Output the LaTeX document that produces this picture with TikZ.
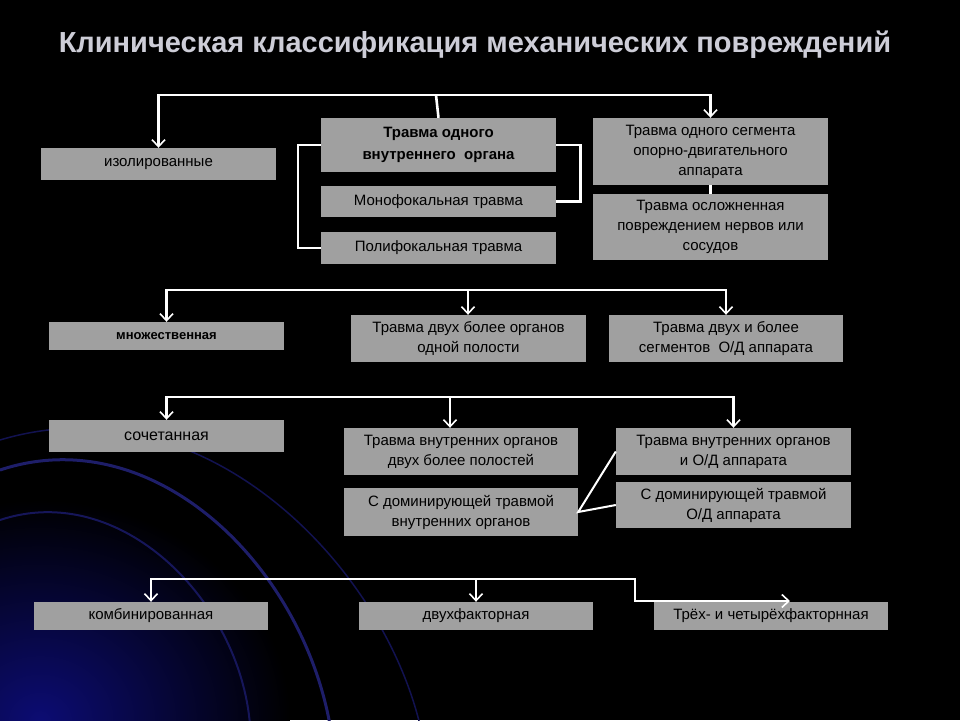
\documentclass[tikz,border=0pt]{standalone}
\usepackage{fontspec}
\setmainfont{Liberation Sans}
\usetikzlibrary{arrows.meta}
\definecolor{boxgray}{RGB}{160,160,160}
\definecolor{titlegray}{RGB}{205,205,215}
\definecolor{glowblue}{RGB}{12,12,115}
\definecolor{arcA}{RGB}{30,30,105}
\definecolor{arcB}{RGB}{22,22,90}
\definecolor{arcC}{RGB}{18,18,80}
\begin{document}
\begin{tikzpicture}[x=1pt,y=-1pt,
  box/.style={fill=boxgray,draw=none,inner sep=1pt,align=center,font=\fontsize{15}{20}\selectfont,text=black},
  wire/.style={draw=white,line width=2.6pt},
  arr/.style={wire,-{Straight Barb[length=7pt,width=13pt,line width=1.6pt]}}]
\useasboundingbox (0,0) rectangle (960,720);
\fill[black] (0,0) rectangle (960,720);
\begin{scope}
\clip (0,0) rectangle (960,720);
\shade[inner color=glowblue,outer color=black] (40,720) ellipse (250 and 220);
\draw[arcA,line width=3pt] (0,470) .. controls (150,420) and (300,560) .. (330,725);
\draw[arcB,line width=2pt] (0,520) .. controls (120,480) and (240,600) .. (250,725);
\draw[arcC,line width=1.5pt] (0,440) .. controls (200,380) and (380,560) .. (420,725);
\end{scope}
\node[font=\bfseries\fontsize{29}{33}\selectfont,text=titlegray] (title) at (475,45) {Клиническая классификация механических повреждений};
% row 1
\node[box,minimum width=235pt,minimum height=32pt] (iso) at (158.5,164) {изолированные};
\node[box,minimum width=235pt,minimum height=54pt,font=\bfseries\fontsize{15}{22}\selectfont] (one) at (438.5,145) {Травма одного\\внутреннего\ \ органа};
\node[box,minimum width=235pt,minimum height=31pt] (mono) at (438.5,201.5) {Монофокальная травма};
\node[box,minimum width=235pt,minimum height=32pt] (poly) at (438.5,248) {Полифокальная травма};
\node[box,minimum width=235pt,minimum height=67pt] (seg) at (710.5,151.5) {Травма одного сегмента\\опорно-двигательного\\аппарата};
\node[box,minimum width=235pt,minimum height=66pt] (compl) at (710.5,227) {Травма осложненная\\повреждением нервов или\\сосудов};
\coordinate (t1) at (436,95);
\draw[wire] (one.north) -- (t1);
\draw[arr] (t1) -| (iso.north);
\draw[arr] (t1) -| (seg.north);
\draw[wire] (seg.south) -- (compl.north);
\draw[wire] (one.west) -- ++(-23,0) |- (poly.west);
\draw[wire] (one.east) -- ++(24,0) |- (mono.east);
% row 2
\node[box,minimum width=235pt,minimum height=28pt,font=\bfseries\fontsize{13}{16}\selectfont] (mult) at (166.5,336) {множественная};
\node[box,minimum width=235pt,minimum height=47pt] (cav) at (468.5,338.5) {Травма двух более органов\\одной полости};
\node[box,minimum width=234pt,minimum height=47pt] (segs) at (726,338.5) {Травма двух и более\\сегментов\ \ О/Д аппарата};
\coordinate (t2) at (468,290);
\draw[arr] (t2) -| (mult.north);
\draw[arr] (t2) -- (t2 |- cav.north);
\draw[arr] (t2) -| (segs.north);
% row 3
\node[box,minimum width=235pt,minimum height=32pt,font=\fontsize{16}{19}\selectfont] (soch) at (166.5,436) {сочетанная};
\node[box,minimum width=234pt,minimum height=47pt] (int2) at (461,451.5) {Травма внутренних органов\\двух более полостей};
\node[box,minimum width=234pt,minimum height=48pt] (domint) at (461,512) {С доминирующей травмой\\внутренних органов};
\node[box,minimum width=235pt,minimum height=47pt] (intod) at (733.5,451.5) {Травма внутренних органов\\и О/Д аппарата};
\node[box,minimum width=235pt,minimum height=46pt] (domod) at (733.5,505) {С доминирующей травмой\\О/Д аппарата};
\coordinate (t3) at (450,397);
\draw[arr] (t3) -| (soch.north);
\draw[arr] (t3) -- (t3 |- int2.north);
\draw[arr] (t3) -| (intod.north);
\draw[white,line width=2pt] (intod.west) -- (domint.east) -- (domod.west);
% row 4
\node[box,minimum width=234pt,minimum height=28pt] (comb) at (151,616) {комбинированная};
\node[box,minimum width=234pt,minimum height=28pt] (two) at (476,616) {двухфакторная};
\node[box,minimum width=234pt,minimum height=28pt] (three) at (771,616) {Трёх- и четырёхфакторнная};
\coordinate (t4) at (476,579);
\coordinate (k4) at (635,601);
\coordinate (e4) at (790,601);
\draw[arr] (t4) -| (comb.north);
\draw[arr] (t4) -- (two.north);
\draw[arr] (t4) -| (k4) -- (e4);
\end{tikzpicture}
\end{document}
